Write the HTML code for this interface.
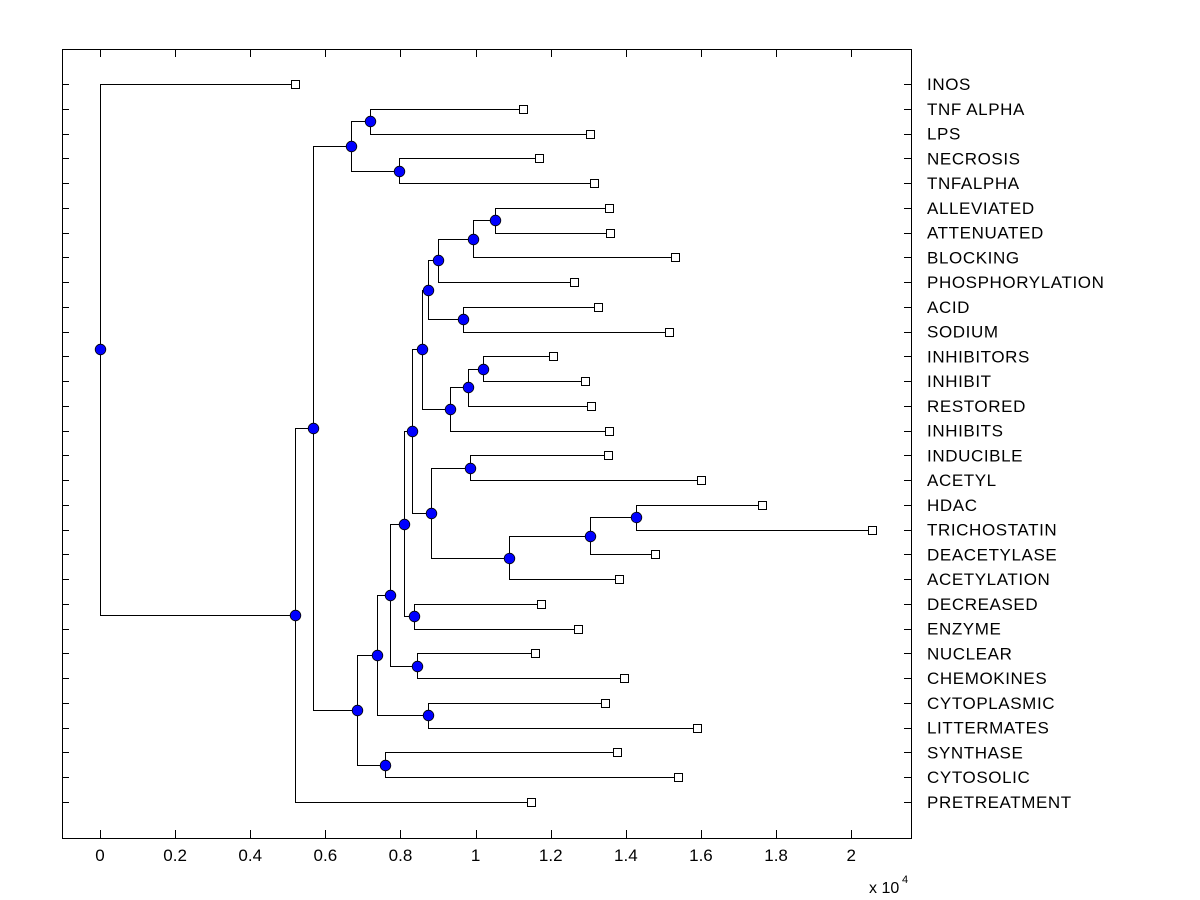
<!DOCTYPE html>
<html><head><meta charset="utf-8"><style>
html,body{margin:0;padding:0;background:#fff;width:1200px;height:900px;overflow:hidden}
svg text{font-family:"Liberation Sans",Arial,sans-serif;font-size:17px;fill:#000}
</style></head><body>
<svg id="chart" width="1200" height="900" xmlns="http://www.w3.org/2000/svg">
<rect x="0" y="0" width="1200" height="900" fill="#fff"/>
<g id="axes"></g>
<g id="links"></g>
<g id="marks"></g>
</svg>
<script>
// leaf labels in display order
const leafNames = ["INOS","TNF ALPHA","LPS","NECROSIS","TNFALPHA","ALLEVIATED","ATTENUATED","BLOCKING","PHOSPHORYLATION","ACID","SODIUM","INHIBITORS","INHIBIT","RESTORED","INHIBITS","INDUCIBLE","ACETYL","HDAC","TRICHOSTATIN","DEACETYLASE","ACETYLATION","DECREASED","ENZYME","NUCLEAR","CHEMOKINES","CYTOPLASMIC","LITTERMATES","SYNTHASE","CYTOSOLIC","PRETREATMENT"];
// leaf values (x 10^4)
const leafValues = [0.518,1.127,1.305,1.170,1.316,1.356,1.359,1.532,1.263,1.327,1.516,1.207,1.292,1.308,1.356,1.353,1.601,1.763,2.056,1.478,1.383,1.175,1.273,1.159,1.396,1.345,1.590,1.377,1.540,1.148];
// internal nodes
const nodeNames = ["root","A","B","C","E","F","D","H","G","J","I","L","K","N","M","P","Q","R","S","T","O","V","W","X","U","Z","Y","AA","AB"];
const nodeValues = [0,0.518,0.568,0.667,0.720,0.797,0.685,0.760,0.738,0.872,0.773,0.845,0.810,0.837,0.832,0.882,0.986,1.090,1.305,1.428,0.858,0.933,0.981,1.020,0.874,0.967,0.901,0.994,1.052];
const nodeChildren = [["INOS","A"],["B","PRETREATMENT"],["C","D"],["E","F"],["TNF ALPHA","LPS"],["NECROSIS","TNFALPHA"],["G","H"],["SYNTHASE","CYTOSOLIC"],["I","J"],["CYTOPLASMIC","LITTERMATES"],["K","L"],["NUCLEAR","CHEMOKINES"],["M","N"],["DECREASED","ENZYME"],["O","P"],["Q","R"],["INDUCIBLE","ACETYL"],["S","ACETYLATION"],["T","DEACETYLASE"],["HDAC","TRICHOSTATIN"],["U","V"],["W","INHIBITS"],["X","RESTORED"],["INHIBITORS","INHIBIT"],["Y","Z"],["ACID","SODIUM"],["AA","PHOSPHORYLATION"],["AB","BLOCKING"],["ALLEVIATED","ATTENUATED"]];
const xTicks = [0,0.2,0.4,0.6,0.8,1,1.2,1.4,1.6,1.8,2];
const xTickLabels = ["0","0.2","0.4","0.6","0.8","1","1.2","1.4","1.6","1.8","2"];

const L=62,R=911,T=49,B=838;
const X0=100,XS=375.6;
const xs=v=>X0+v*XS;
const Y0=84,YS=(802-84)/(leafNames.length-1);
const ys=i=>Y0+i*YS;
const NS="http://www.w3.org/2000/svg";
function mk(tag,attrs,parent){const e=document.createElementNS(NS,tag);for(const k in attrs)e.setAttribute(k,attrs[k]);parent.appendChild(e);return e;}
const axes=document.getElementById('axes'),links=document.getElementById('links'),marks=document.getElementById('marks');

const frame=mk('rect',{x:L+0.5,y:T+0.5,width:R-L,height:B-T,fill:'none',stroke:'#000','stroke-width':1},axes);


xTicks.forEach((t,i)=>{
  const x=Math.round(xs(t))+0.5;
  const a=mk('line',{x1:x,x2:x,y1:B,y2:B-8,stroke:'#000'},axes);
  
  
  const b=mk('line',{x1:x,x2:x,y1:T,y2:T+8,stroke:'#000'},axes);
  
  
  const tx=mk('text',{x:xs(t),y:861,'text-anchor':'middle'},axes);
  tx.textContent=xTickLabels[i];
  
  
});
leafNames.forEach((n,i)=>{
  const y=Math.round(ys(i))+0.5;
  const a=mk('line',{x1:L,x2:L+7,y1:y,y2:y,stroke:'#000'},axes);
  
  
  const b=mk('line',{x1:R-7,x2:R,y1:y,y2:y,stroke:'#000'},axes);
  
  
  const tx=mk('text',{x:927,y:ys(i)+6,style:'letter-spacing:0.6px'},axes);
  tx.textContent=n;
  
  
});
const ex=mk('text',{x:869,y:893,style:'font-size:16px'},axes);
ex.textContent='x 10';


const ex4=mk('text',{x:902,y:883,style:'font-size:11px'},axes);
ex4.textContent='4';



const pos={};
leafNames.forEach((n,i)=>{pos[n]={x:xs(leafValues[i]),y:ys(i),leaf:true};});
function getPos(n){
  if(pos[n])return pos[n];
  const k=nodeNames.indexOf(n);
  const c=nodeChildren[k].map(getPos);
  pos[n]={x:xs(nodeValues[k]),y:(c[0].y+c[1].y)/2,leaf:false};
  return pos[n];
}
nodeNames.forEach(getPos);
const r=v=>Math.round(v)+0.5;
nodeNames.forEach((n,k)=>{
  const p=pos[n];
  const c=nodeChildren[k].map(q=>pos[q]);
  const d=`M${r(c[0].x)},${r(c[0].y)}H${r(p.x)}V${r(c[1].y)}H${r(c[1].x)}`;
  const path=mk('path',{d:d,fill:'none',stroke:'#000','stroke-width':1},links);
  
  
});
leafNames.forEach((n)=>{
  const p=pos[n];
  const s=mk('rect',{x:r(p.x)-4,y:r(p.y)-4,width:8,height:8,fill:'#fff',stroke:'#000','stroke-width':1},marks);
  
  
});
nodeNames.forEach((n)=>{
  const p=pos[n];
  const c=mk('circle',{cx:r(p.x),cy:r(p.y),r:5.3,fill:'#0000ff',stroke:'#000','stroke-width':0.8},marks);
  
  
});
</script>
</body></html>
